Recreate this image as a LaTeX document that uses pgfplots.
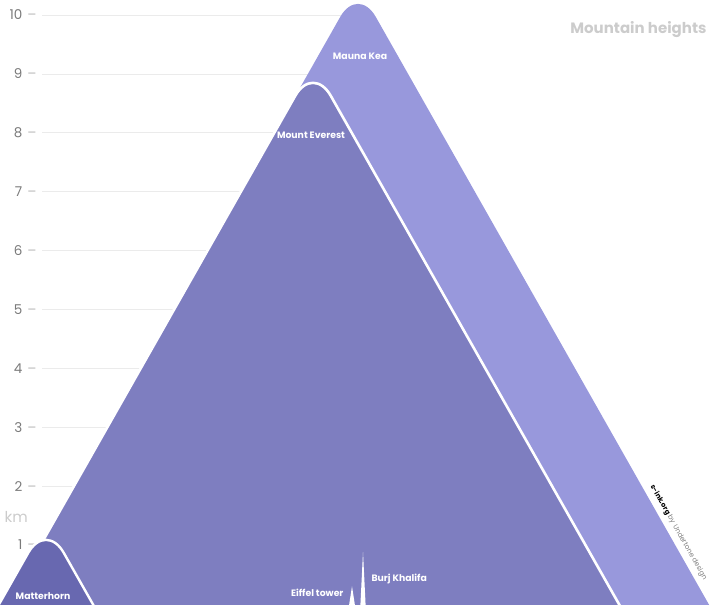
\documentclass[border=0pt]{standalone}
\usepackage{pgfplots}
\pgfplotsset{compat=1.18}
\usepackage{fontspec}
\setmainfont{Poppins}
\definecolor{mk}{HTML}{9898DC}
\definecolor{ev}{HTML}{7E7EC0}
\definecolor{mt}{HTML}{6868B0}
\definecolor{gridc}{HTML}{EBEBEB}
\definecolor{tickc}{HTML}{7A7A7A}
\begin{document}
\begin{tikzpicture}
\begin{axis}[
  width=720pt, height=605pt, scale only axis,
  xmin=0, xmax=720, ymin=-0.017, ymax=10.255,
  axis line style={draw=none}, tick style={draw=none},
  xtick=\empty,
  ytick={1,2,3,4,5,6,7,8,9,10},
  yticklabel={\pgfmathprintnumber[assume math mode=true]{\tick}\hspace{5pt}{\color{gray!55}--}},
  yticklabel style={anchor=east, xshift=40pt, text=tickc, font=\fontsize{13.5}{15}\selectfont},
  clip=true,
]
% grid lines
\pgfplotsinvokeforeach{1,2,3,4,5,6,7,8,9,10}{
  \addplot[draw=gridc, line width=0.8pt] coordinates {(42,#1) (360,#1)};
}
% Mauna Kea
\addplot[fill=mk, draw=none, rounded corners=36pt] coordinates {(-26,-1) (358,10.5) (742,-1)};
% Mount Everest
\addplot[fill=ev, draw=white, line width=2.6pt, rounded corners=36pt] coordinates {(-26.3,-1) (313,9.16) (652.3,-1)};
% Matterhorn
\addplot[fill=mt, draw=white, line width=2.4pt, rounded corners=36pt] coordinates {(-34.2,-1) (46,1.40) (126.2,-1)};
% Eiffel tower
\addplot[fill=white, draw=none] coordinates {(348.8,-0.05) (352,0.30) (355.2,-0.05)};
% Burj Khalifa
\addplot[fill=white, draw=none] coordinates {(360.3,-0.05) (363,0.88) (365.7,-0.05)};

\node[text=white, font=\fontsize{9.3}{11}\selectfont\bfseries] at (axis cs:360,9.30) {Mauna Kea};
\node[text=white, font=\fontsize{9.3}{11}\selectfont\bfseries] at (axis cs:311,7.95) {Mount Everest};
\node[text=white, font=\fontsize{9.3}{11}\selectfont\bfseries] at (axis cs:43,0.14) {Matterhorn};
\node[text=white, font=\fontsize{9.3}{11}\selectfont\bfseries, anchor=east] at (axis cs:347,0.19) {Eiffel tower};
\node[text=white, font=\fontsize{9.3}{11}\selectfont\bfseries, anchor=west] at (axis cs:368,0.42) {Burj Khalifa};
\node[text=gray!40, font=\fontsize{15}{17}\selectfont\bfseries, anchor=east] at (axis cs:710,9.76) {Mountain heights};
\node[text=gray!40, font=\fontsize{15}{17}\selectfont, anchor=west] at (axis cs:1,1.48) {km};
\node[rotate=-60.5, anchor=south west, inner sep=1pt, font=\fontsize{7}{8}\selectfont] at (axis cs:647,1.99) {\textbf{s-ink.org}\ \textcolor{gray}{by Undertone design}};
\end{axis}
\pgfresetboundingbox
\useasboundingbox (current axis.south west) rectangle (current axis.north east);
\end{tikzpicture}
\end{document}
